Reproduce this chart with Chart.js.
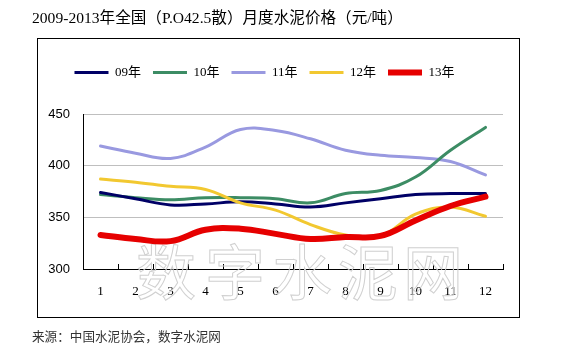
<!DOCTYPE html>
<html>
<head>
<meta charset="utf-8">
<script src="https://cdn.jsdelivr.net/npm/chart.js@4/dist/chart.umd.min.js"></script>
<style>
  html, body { margin: 0; padding: 0; background: #fff; }
  #wrap { position: relative; width: 563px; height: 356px; overflow: hidden; background: #fff; }
  #frame { position: absolute; left: 37px; top: 38px; width: 481px; height: 278px; border: 1px solid #000; box-sizing: content-box; }
  #title { position: absolute; left: 32px; top: 5px; font: 15.6px "Liberation Serif", "Noto Sans CJK SC", serif; color: #000; white-space: nowrap; }
  #source { position: absolute; left: 32px; top: 326px; font: 12.6px "Noto Sans CJK SC", sans-serif; color: #333; white-space: nowrap; }
  canvas { position: absolute; left: 0; top: 0; }
</style>
</head>
<body>
<div id="wrap">
  <div id="frame"></div>
  <canvas id="c" width="563" height="356"></canvas>
  <div id="title">2009-2013年全国（P.O42.5散）月度水泥价格（元/吨）</div>
  <div id="source">来源：中国水泥协会，数字水泥网</div>
</div>
<script>
const months = ['1','2','3','4','5','6','7','8','9','10','11','12'];
const seriesNames = ['09年','10年','11年','12年','13年'];
const s09 = [374, 368, 362, 363, 365, 363, 360, 364, 368, 372, 373, 373];
const s10 = [372, 369, 367, 369, 369, 368, 364, 373, 376, 389, 415, 437];
const s11 = [419, 412, 407, 418, 435, 434, 426, 415, 410, 408, 404, 391];
const s12 = [387, 384, 380, 377, 364, 357, 343, 333, 332, 353, 360, 351];
const s13 = [333, 329, 327, 338, 339, 334, 329, 331, 332, 347, 361, 370];
const yTicks = [300, 350, 400, 450];
const watermark = '数字水泥网';

const colors = ['#000066', '#3C8C64', '#9999E0', '#F2C830', '#E60000'];
const widths = [3, 3, 3, 3, 6];
const orders = [2, 3, 4, 1, 0];
const values = [s09, s10, s11, s12, s13];

const watermarkPlugin = {
  id: 'watermark',
  beforeDatasetsDraw(chart) {
    const ctx = chart.ctx;
    const xs = [166, 235, 302, 368, 433];
    ctx.save();
    ctx.font = '60px "Noto Sans CJK SC", sans-serif';
    ctx.textAlign = 'center';
    ctx.textBaseline = 'middle';
    ctx.strokeStyle = '#d0d0d0';
    ctx.lineWidth = 1;
    [...watermark].forEach((ch, i) => ctx.strokeText(ch, xs[i], 272));
    ctx.restore();
  }
};

const legendGap = {
  id: 'legendGap',
  beforeLayout(chart) {
    const lg = chart.legend;
    if (lg && !lg._gapPatched) {
      const f = lg.fit;
      lg.fit = function () { f.call(this); this.height += 25; };
      lg._gapPatched = true;
    }
  }
};

new Chart(document.getElementById('c'), {
  type: 'line',
  data: {
    labels: months,
    datasets: values.map((v, i) => ({
      label: seriesNames[i],
      data: v,
      borderColor: colors[i],
      backgroundColor: colors[i],
      borderWidth: widths[i],
      pointRadius: 0,
      pointStyle: 'line',
      tension: 0.4,
      fill: false,
      order: orders[i],
      borderCapStyle: 'round'
    }))
  },
  options: {
    responsive: false,
    animation: false,
    layout: { padding: { left: 26, right: 60, top: 54, bottom: 52 } },
    plugins: {
      title: { display: false },
      tooltip: { enabled: false },
      legend: {
        display: true,
        position: 'top',
        labels: {
          usePointStyle: true,
          pointStyle: 'line',
          pointStyleWidth: 34,
          boxHeight: 13,
          padding: 12,
          color: '#000',
          font: { family: '"Liberation Serif", "Noto Sans CJK SC", serif', size: 13 },
          sort: (a, b) => a.datasetIndex - b.datasetIndex
        }
      }
    },
    scales: {
      x: {
        type: 'category',
        offset: true,
        grid: { offset: true, drawOnChartArea: false, drawTicks: true, tickLength: -5, color: '#000', lineWidth: 1 },
        border: { display: true, color: '#000', width: 1 },
        ticks: { color: '#000', padding: 20, maxRotation: 0, autoSkip: false,
                 font: { family: '"Liberation Serif", serif', size: 13 } },
        afterFit(scale) { scale.height = 35; }
      },
      y: {
        min: 300, max: 450,
        afterBuildTicks(scale) { scale.ticks = yTicks.map(v => ({ value: v })); },
        grid: { color: '#BFBFBF', lineWidth: 1, drawTicks: false },
        border: { display: true, color: '#000', width: 1 },
        ticks: { color: '#000', padding: 13,
                 font: { family: '"Liberation Sans", Arial, sans-serif', size: 13 } },
        afterFit(scale) { scale.width = 57; }
      }
    }
  },
  plugins: [watermarkPlugin, legendGap]
});
</script>
</body>
</html>
